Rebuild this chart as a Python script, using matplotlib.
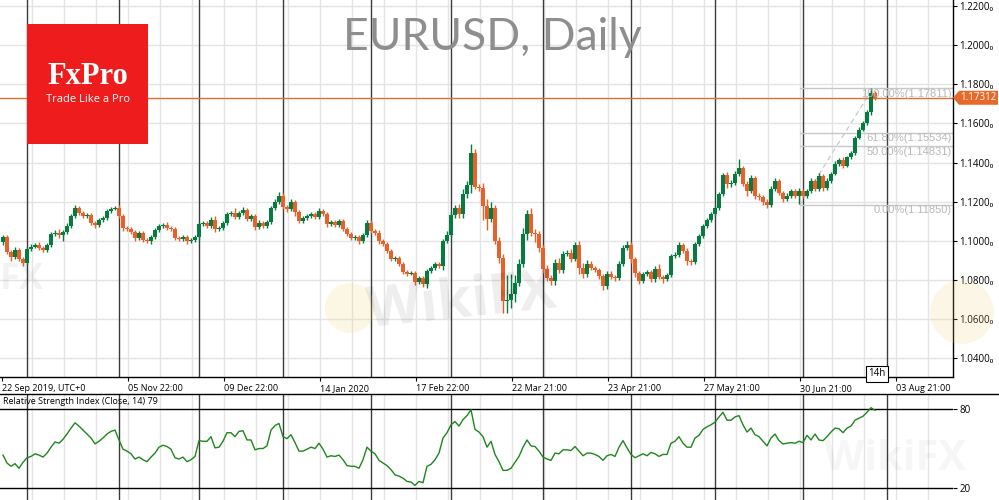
import matplotlib
matplotlib.use('Agg')
import matplotlib.pyplot as plt
from matplotlib.patches import Rectangle, Polygon, Ellipse
from matplotlib.lines import Line2D
import matplotlib.transforms as mtransforms

plt.rcParams['font.family'] = ['Open Sans', 'DejaVu Sans']

# daily EURUSD candles (bar 0 = 22 Sep 2019)
first_open = 1.0995
closes = [
    1.1020, 1.0943, 1.0918, 1.0954, 1.0907, 1.0887, 1.0959, 1.0969, 1.0979, 1.0964,
    1.0954, 1.0979, 1.1036, 1.1041, 1.1031, 1.1046, 1.1077, 1.1128, 1.1169, 1.1143,
    1.1128, 1.1133, 1.1092, 1.1082, 1.1108, 1.1118, 1.1154, 1.1164, 1.1169, 1.1128,
    1.1066, 1.1061, 1.1046, 1.1015, 1.1041, 1.1005, 1.1000, 1.1020, 1.1056, 1.1077,
    1.1082, 1.1066, 1.1061, 1.1015, 1.1010, 1.1020, 1.1000, 1.1005, 1.1020, 1.1087,
    1.1090, 1.1077, 1.1108, 1.1061, 1.1066, 1.1092, 1.1138, 1.1143, 1.1123, 1.1143,
    1.1159, 1.1113, 1.1128, 1.1072, 1.1092, 1.1077, 1.1097, 1.1169, 1.1200, 1.1231,
    1.1174, 1.1164, 1.1200, 1.1149, 1.1102, 1.1118, 1.1128, 1.1138, 1.1123, 1.1154,
    1.1138, 1.1087, 1.1097, 1.1082, 1.1102, 1.1061, 1.1036, 1.1015, 1.1020, 1.1000,
    1.1031, 1.1092, 1.1051, 1.1041, 1.1000, 1.0985, 1.0949, 1.0907, 1.0913, 1.0882,
    1.0841, 1.0831, 1.0836, 1.0790, 1.0810, 1.0779, 1.0846, 1.0861, 1.0882, 1.0872,
    1.1000, 1.1031, 1.1133, 1.1169, 1.1138, 1.1241, 1.1287, 1.1451, 1.1277, 1.1272,
    1.1179, 1.1113, 1.1169, 1.1000, 1.0913, 1.0692, 1.0697, 1.0728, 1.0784, 1.0882,
    1.1036, 1.1138, 1.1041, 1.1036, 1.0964, 1.0856, 1.0810, 1.0795, 1.0887, 1.0851,
    1.0933, 1.0938, 1.0907, 1.0979, 1.0861, 1.0831, 1.0882, 1.0861, 1.0851, 1.0820,
    1.0769, 1.0831, 1.0815, 1.0810, 1.0882, 1.0964, 1.0979, 1.0907, 1.0836, 1.0795,
    1.0831, 1.0841, 1.0805, 1.0856, 1.0815, 1.0805, 1.0825, 1.0923, 1.0928, 1.0979,
    1.0949, 1.0897, 1.0892, 1.0985, 1.1025, 1.1077, 1.1108, 1.1138, 1.1169, 1.1241,
    1.1338, 1.1292, 1.1297, 1.1344, 1.1374, 1.1292, 1.1256, 1.1323, 1.1231, 1.1226,
    1.1200, 1.1184, 1.1267, 1.1308, 1.1246, 1.1215, 1.1231, 1.1256, 1.1231, 1.1256,
    1.1231, 1.1256, 1.1308, 1.1267, 1.1333, 1.1272, 1.1308, 1.1344, 1.1395, 1.1415,
    1.1385, 1.1426, 1.1451, 1.1528, 1.1569, 1.1600, 1.1656, 1.1754, 1.1731,
]
# wick lengths above / below the body, in pips
up_wick = [
    8, 10, 8, 12, 10, 8, 10, 15, 12, 14,
    10, 8, 10, 15, 20, 10, 12, 10, 15, 10,
    12, 10, 8, 10, 10, 8, 10, 10, 10, 12,
    8, 12, 10, 8, 10, 10, 8, 10, 10, 8,
    10, 12, 10, 10, 8, 10, 8, 10, 8, 10,
    12, 10, 12, 20, 10, 10, 10, 12, 25, 10,
    12, 10, 10, 10, 12, 10, 8, 8, 12, 20,
    15, 10, 12, 10, 8, 10, 10, 10, 10, 12,
    10, 8, 10, 10, 10, 8, 10, 8, 10, 10,
    8, 12, 15, 10, 12, 10, 10, 8, 10, 10,
    8, 10, 10, 10, 10, 10, 10, 12, 10, 12,
    10, 20, 15, 12, 20, 25, 20, 45, 20, 15,
    25, 35, 30, 15, 20, 20, 130, 100, 40, 25,
    30, 20, 30, 20, 15, 15, 20, 15, 20, 25,
    15, 15, 20, 15, 20, 25, 20, 15, 12, 10,
    10, 15, 15, 12, 15, 15, 20, 15, 10, 12,
    12, 10, 12, 15, 25, 10, 10, 10, 15, 15,
    12, 12, 10, 10, 12, 10, 10, 10, 12, 10,
    10, 15, 12, 15, 45, 10, 12, 12, 10, 12,
    10, 12, 12, 12, 10, 10, 12, 10, 10, 12,
    10, 10, 12, 10, 15, 10, 12, 10, 12, 10,
    12, 10, 10, 10, 12, 10, 15, 27, 10,
]
low_wick = [
    15, 10, 20, 12, 10, 15, 10, 10, 8, 10,
    12, 10, 10, 10, 15, 30, 10, 10, 10, 12,
    12, 10, 10, 15, 10, 10, 10, 10, 8, 10,
    15, 10, 12, 15, 10, 12, 10, 15, 10, 10,
    10, 10, 12, 10, 10, 10, 15, 10, 10, 15,
    10, 10, 12, 15, 10, 10, 10, 10, 12, 10,
    10, 12, 10, 15, 10, 10, 10, 10, 10, 10,
    12, 15, 10, 20, 12, 10, 10, 10, 10, 10,
    12, 15, 10, 10, 10, 12, 10, 12, 10, 15,
    10, 10, 12, 10, 15, 10, 12, 10, 12, 10,
    12, 10, 8, 15, 12, 15, 20, 12, 10, 10,
    20, 12, 10, 15, 20, 20, 20, 40, 10, 15,
    70, 60, 15, 15, 25, 60, 60, 40, 40, 15,
    15, 30, 15, 40, 20, 20, 15, 20, 20, 15,
    15, 12, 15, 10, 30, 20, 15, 12, 12, 15,
    20, 15, 12, 15, 10, 12, 10, 20, 20, 15,
    12, 12, 15, 15, 10, 20, 12, 10, 12, 10,
    12, 20, 15, 10, 12, 10, 12, 10, 10, 10,
    10, 20, 15, 10, 12, 12, 25, 10, 15, 15,
    15, 15, 12, 10, 12, 15, 12, 10, 12, 45,
    12, 10, 10, 12, 10, 15, 10, 12, 10, 10,
    12, 10, 10, 10, 10, 10, 10, 12, 10,
]
rsi = [
    45, 39, 36.5, 38.5, 35, 39.5, 43, 44, 46, 45,
    43.5, 46.5, 51, 55, 54, 57, 61, 65.5, 69.5, 67,
    64, 61, 58, 53.5, 55.5, 58, 61, 63, 64, 56.5,
    49.5, 48, 46, 42, 43.5, 41.5, 40, 43.5, 46.5, 51,
    52.5, 51.5, 49.5, 43, 42, 43.5, 40, 41.5, 44, 56,
    55.5, 55.5, 59, 50.5, 51, 55.5, 62, 62, 59, 63,
    63.5, 56.5, 56.5, 49, 50, 50, 52, 64, 67.5, 69,
    59, 57.5, 60.5, 54.5, 48, 48, 49.5, 51, 50, 54,
    49.5, 43.5, 44.5, 44, 45, 41.5, 37, 36.5, 36.5, 35,
    41.5, 51, 48, 46, 41, 39, 37, 34, 30, 29,
    27.5, 25, 24.5, 22, 25, 24, 36.5, 38, 41.5, 46.5,
    58, 62, 68, 70.5, 67, 72, 75, 79.5, 64.5, 62.5,
    59, 51, 55.5, 45.5, 40, 33.4, 33.4, 35, 39.5, 44,
    51, 56.5, 52, 51.5, 48, 43.5, 42, 41, 46.5, 46,
    49, 49, 48.5, 51.5, 48, 44.5, 46.5, 46.5, 45.5, 44,
    41, 44.5, 45.5, 44, 51, 56, 50.5, 45.5, 43, 44.5,
    46, 44.5, 47, 46, 44, 45.5, 45.5, 54, 55.5, 59,
    54, 51, 51, 58, 60, 64.5, 66.5, 68, 70, 74,
    77.5, 71.5, 71.5, 74, 75, 68, 62.5, 65.5, 60.5, 59,
    55.5, 52, 58, 61, 56, 53.5, 54, 54.5, 54, 55.5,
    54.5, 60, 56.5, 61, 56.5, 56, 59, 62.5, 65.5, 65,
    62, 65.5, 67, 71.5, 73, 74.5, 77.5, 81, 79,
]

tick_bars = [-0.25, 31.25, 55.25, 79.25, 103.25, 127.25, 151.25, 175.25, 199.25, 223.25]
tick_labels = ['22 Sep 2019, UTC+0', '05 Nov 22:00', '09 Dec 22:00', '14 Jan 2020',
               '17 Feb 22:00', '22 Mar 21:00', '23 Apr 21:00', '27 May 21:00',
               '30 Jun 21:00', '03 Aug 21:00']
month_start_bars = [6, 29, 49, 70, 92, 112, 135, 157, 178, 200, 221]
price_levels = [1.04, 1.06, 1.08, 1.10, 1.12, 1.14, 1.16, 1.18, 1.20, 1.22]
fib_names = ['100.00%', '61.80%', '50.00%', '0.00%']
fib_prices = [1.17811, 1.15534, 1.14831, 1.11850]
fib_from_bar, fib_to_bar = 199.25, 217.5
last_price = 1.17312
rsi_levels = [80, 20]

n = len(closes)
opens = [first_open] + closes[:-1]
highs = [max(o, c) + w / 10000 for o, c, w in zip(opens, closes, up_wick)]
lows = [min(o, c) - w / 10000 for o, c, w in zip(opens, closes, low_wick)]
xs = list(range(n))

GREEN = '#077a40'
ORANGE = '#e8602a'
GRID = '#e4e4e4'
DARK = '#3c3c3c'

W, H = 999, 500
fig = plt.figure(figsize=(W / 100, H / 100), dpi=100)
ax = fig.add_axes([0, 1 - 377 / H, 953 / W, 377 / H])
ax_rsi = fig.add_axes([0, 0, 953 / W, 106 / H], sharex=ax)

xmin, xmax = -0.75, 237.5
ax.set_xlim(xmin, xmax)
ax.set_ylim(1.0304, 1.2231)
ax_rsi.set_ylim(10.9, 91.4)

# grid
minor = [7.25 + 8 * k for k in range(30)]
for a in (ax, ax_rsi):
    for g in minor:
        a.axvline(g, color=GRID, lw=1, zorder=0)
    for m in month_start_bars:
        a.axvline(m, color=DARK, lw=1, zorder=1)
for p in price_levels:
    ax.axhline(p, color=GRID, lw=1, zorder=0)

# faint watermarks
fig.text(462 / W, 1 - 303 / H, 'WikiFX', fontsize=40, fontweight='bold', color='#000000',
         alpha=0.07, ha='center', va='center', rotation=6, zorder=0.5)
fig.add_artist(Ellipse((350 / W, 1 - 308 / H), 50 / W, 50 / H, transform=fig.transFigure,
                       fc='#f3d27a', ec='none', alpha=0.2, zorder=0.4))
fig.add_artist(Ellipse((962 / W, 1 - 312 / H), 64 / W, 64 / H, transform=fig.transFigure,
                       fc='#f3d27a', ec='none', alpha=0.18, zorder=0.4))
fig.text(22 / W, 1 - 280 / H, 'FX', fontsize=26, fontweight='bold', color='#000000',
         alpha=0.05, ha='center', va='center', zorder=0.5)
fig.text(895 / W, 1 - 460 / H, 'WikiFX', fontsize=30, fontweight='bold', color='#000000',
         alpha=0.035, ha='center', va='center', zorder=0.5)

# candles
colors = [GREEN if c >= o else ORANGE for o, c in zip(opens, closes)]
ax.vlines(xs, lows, highs, colors=colors, lw=1, zorder=3)
bottoms = [min(o, c) for o, c in zip(opens, closes)]
heights = [max(abs(c - o), 0.00035) for o, c in zip(opens, closes)]
ax.bar(xs, heights, bottom=bottoms, width=0.8, color=colors, lw=0, zorder=4)

# fibonacci retracement
for name, p in zip(fib_names, fib_prices):
    ax.plot([fib_from_bar, xmax], [p, p], color='#c8c8c8', lw=1, zorder=2)
    ax.text(xmax - 0.3, p - 0.0004, f'{name}({p:.5f})', ha='right', va='top',
            fontsize=8, color='#b9b9b9', zorder=5, family=['Liberation Sans', 'DejaVu Sans'])
ax.plot([fib_from_bar, fib_to_bar], [fib_prices[3], fib_prices[0]], color='#c8c8c8',
        lw=0.9, ls=(0, (4, 3)), zorder=2)

# current price line
ax.axhline(last_price, color='#e0702e', lw=1, zorder=2)

# axes styling
for s in ('top', 'left'):
    ax.spines[s].set_visible(False)
for s in ('bottom', 'right'):
    ax.spines[s].set_color('black')
    ax.spines[s].set_linewidth(1)
ax.yaxis.tick_right()
ax.set_yticks(price_levels)
ax.set_yticklabels([f'{p:.4f}\u2080' for p in price_levels])
ax.tick_params(axis='y', length=3, pad=1.5, labelsize=7, colors='black')
ax.set_xticks(tick_bars)
ax.set_xticklabels(tick_labels, ha='left')
ax.tick_params(axis='x', length=3, pad=2, labelsize=6.5, colors='black')

# RSI panel
ax_rsi.plot(xs, rsi, color='#1e861e', lw=1, zorder=3)
for lv in rsi_levels:
    ax_rsi.axhline(lv, color='black', lw=1, zorder=2)
for s in ax_rsi.spines.values():
    s.set_visible(False)
ax_rsi.yaxis.tick_right()
ax_rsi.set_yticks(rsi_levels)
ax_rsi.set_yticklabels([str(v) for v in rsi_levels])
ax_rsi.tick_params(axis='y', length=3, pad=1.5, labelsize=7, colors='black')
ax_rsi.tick_params(axis='x', bottom=False, labelbottom=False)
fig.add_artist(Line2D([0, 1], [1 - 394 / H, 1 - 394 / H], transform=fig.transFigure,
                      color='black', lw=1))
fig.text(3 / W, 1 - 401 / H, 'Relative Strength Index (Close, 14) 79', fontsize=6.5,
         ha='left', va='center', color='black')

# price tag
y_disp = ax.transData.transform((0, last_price))[1]
yf = y_disp / fig.bbox.height
hh = 7 / H
tag = Polygon([(953 / W, yf), (959 / W, yf + hh), (998 / W, yf + hh), (998 / W, yf - hh),
               (959 / W, yf - hh)], closed=True, transform=fig.transFigure,
              fc='#e8692c', ec='none', zorder=6)
fig.add_artist(tag)
fig.text(978 / W, yf, f'{last_price:.5f}', color='white', fontsize=7, ha='center',
         va='center', zorder=7)

# 14h marker
bt = mtransforms.blended_transform_factory(ax.transData, ax.transAxes)
ax.text(218.5, 0.008, '14h', transform=bt, ha='center', va='center', fontsize=7,
        bbox=dict(boxstyle='square,pad=0.25', fc='white', ec='black', lw=0.8), zorder=8)

# title
fig.text(492 / W, 1 - 38 / H, 'EURUSD, Daily', fontsize=32, color='#8e8e8e',
         ha='center', va='center', family=['Lato', 'DejaVu Sans'])

# FxPro logo
fig.add_artist(Rectangle((27 / W, 1 - 144 / H), 121 / W, 120 / H, transform=fig.transFigure,
                         fc='#ee1c1c', ec='none', zorder=9))
fig.text(88 / W, 1 - 77 / H, 'FxPro', fontsize=22, color='white', ha='center', va='center',
         family=['Liberation Serif', 'DejaVu Serif'], fontweight='bold', zorder=10)
fig.text(88 / W, 1 - 99 / H, 'Trade Like a Pro', fontsize=8, color='white', ha='center',
         va='center', zorder=10)

fig.savefig('out.png', dpi=100)
